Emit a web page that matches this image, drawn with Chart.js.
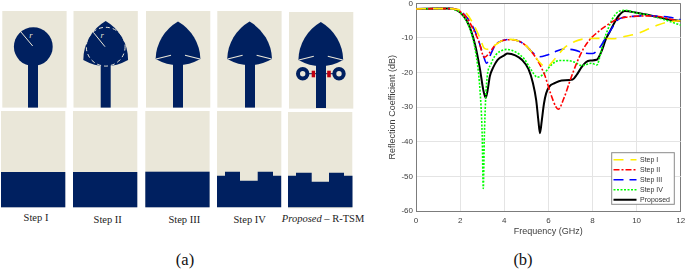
<!DOCTYPE html>
<html><head><meta charset="utf-8">
<style>
html,body{margin:0;padding:0;background:#fff;width:685px;height:270px;overflow:hidden}
#art{position:absolute;left:0;top:0}
#wrap{position:absolute;left:370px;top:0;width:315px;height:270px}
.cap{position:absolute;font-family:"Liberation Serif",serif;font-size:10.5px;color:#222;white-space:nowrap;transform:translate(-50%,-50%);line-height:1}
.big{font-size:16.5px;color:#111}
</style>
<script src="https://cdn.jsdelivr.net/npm/chart.js@4/dist/chart.umd.js"></script>
</head><body>
<svg id="art" width="370" height="270" xmlns="http://www.w3.org/2000/svg"></svg>
<div class="cap" style="left:36px;top:218px">Step I</div>
<div class="cap" style="left:107.7px;top:219.5px">Step II</div>
<div class="cap" style="left:184.3px;top:219.5px">Step III</div>
<div class="cap" style="left:249.7px;top:219.5px">Step IV</div>
<div class="cap" style="left:323px;top:219px"><i>Proposed</i> – R-TSM</div>
<div class="cap big" style="left:185px;top:260px">(a)</div>
<div class="cap big" style="left:523px;top:260px">(b)</div>
<div id="wrap"><canvas id="c" width="315" height="270"></canvas></div>
<script>
// ---- Data ----
const seriesNames = ["Step I","Step II","Step III","Step IV","Proposed"];
const xTicksMax = 12;

const freqI  = [0,1,1.5,1.8,2,2.3,2.6,2.9,3.1,3.3,3.6,3.9,4.3,4.7,5,5.3,5.6,5.9,6.3,6.7,7.2,7.7,8.3,9,9.5,10,10.5,11,11.5,12];
const lossI  = [-1.6,-1.5,-1.5,-1.7,-1.9,-3,-6,-10,-13,-13.3,-12,-10.8,-10.4,-11,-12.3,-14.5,-17,-18.4,-16,-13,-11,-10.2,-10.1,-10.2,-9.5,-8.8,-7.5,-6.2,-5.3,-5];

const freqII = [0,1,1.5,1.8,2,2.3,2.6,2.85,3.1,3.3,3.6,3.9,4.3,4.7,5,5.3,5.6,5.85,6.1,6.35,6.45,6.7,7,7.3,7.6,7.9,8.2,8.5,8.8,9.1,9.5,10,10.5,11,11.5,12];
const lossII = [-1.6,-1.5,-1.5,-1.7,-2.3,-4.2,-7.5,-11,-15.6,-14.5,-12,-10.8,-10.5,-11,-12.3,-14.5,-17.5,-21,-26,-30,-30.6,-27.5,-22,-17,-13,-10.3,-8.5,-7,-5.7,-4.6,-4,-3.7,-3.6,-3.8,-4.5,-5.3];

const freqIII= [0,1,1.5,1.8,2,2.3,2.6,2.85,3.05,3.2,3.4,3.6,3.9,4.3,4.7,5,5.3,5.6,5.9,6.3,6.7,7.2,7.6,8,8.3,8.6,8.9,9.1,9.4,10,10.5,11,11.5,12];
const lossIII= [-1.6,-1.5,-1.5,-1.7,-2.2,-4,-7,-11,-15,-17.3,-14.5,-12,-10.8,-10.4,-11,-12.3,-14.3,-15.4,-15,-14,-13.2,-13.5,-14.3,-14.5,-13,-10,-7,-5,-4,-3.7,-3.5,-3.7,-4,-4.7];

const freqIV = [0,1,1.5,1.8,2,2.3,2.5,2.7,2.9,3,3.05,3.1,3.2,3.4,3.6,3.9,4.1,4.5,4.9,5.2,5.5,5.8,6.1,6.5,6.8,7.2,7.5,7.96,8.2,8.35,8.5,8.7,8.9,9.2,9.5,10,10.5,11,11.5,12];
const lossIV = [-1.6,-1.5,-1.5,-1.9,-2.6,-5.2,-8.5,-14,-25,-38,-53.5,-38,-23,-17.5,-15,-13.6,-13.3,-14,-16,-19,-21.3,-20.3,-18,-16.5,-16.5,-17,-18,-17.3,-17.8,-15,-11,-7.5,-4.5,-2.3,-2,-2.8,-3.3,-4.2,-5.2,-6.3];

const freqP  = [0,1,1.5,1.84,2,2.3,2.5,2.7,2.9,3.05,3.16,3.25,3.35,3.5,3.7,4,4.15,4.5,4.8,5.1,5.3,5.45,5.55,5.62,5.7,5.8,5.9,6.05,6.3,6.6,7.1,7.3,7.5,7.7,7.9,8.19,8.4,8.6,8.8,9,9.2,9.47,10,10.5,11,11.5,12];
const lossP  = [-1.6,-1.5,-1.5,-1.9,-2.6,-5,-8,-12.5,-19,-25,-27.3,-25,-21,-18.5,-16.3,-15,-14.5,-15,-16.3,-19,-23,-28,-34,-37.5,-34,-29,-26,-24,-23,-22.3,-22,-20.5,-18.5,-17,-16.5,-16.3,-14,-10.5,-8,-5.5,-3.5,-2.2,-2.7,-3.3,-4,-4.7,-5];

// ---- Panel (a): antenna schematics (illustration, not data) ----
const NAVY="#002060", SAND="#eae7d9";
let s="";
const rect=(x,y,w,h,f)=>`<rect x="${x}" y="${y}" width="${w}" height="${h}" fill="${f}"/>`;
const line=(a,b,c,d,w,f,extra="")=>`<line x1="${a}" y1="${b}" x2="${c}" y2="${d}" stroke="${f}" stroke-width="${w}" ${extra}/>`;
const feed=(cx,y2)=>rect(cx-5,60,10,y2-60,NAVY);
const petal=(cx,ay,ty)=>`<path d="M${cx},${ay} A45 45 0 0 0 ${cx-22.4},${ty} Q${cx},${ty+12.4} ${cx+22.4},${ty} A45 45 0 0 0 ${cx},${ay} Z" fill="${NAVY}"/>`;
const slits=(cx,ty)=>line(cx-22,ty,cx-7,ty-3.8,1.1,SAND)+line(cx+22,ty,cx+7,ty-3.8,1.1,SAND);

// top row backgrounds
[[2.3,11],[73.5,11],[146,11],[217.3,11],[289,12]].forEach(p=>{s+=rect(p[0],p[1],64.3,96.6,SAND);});
// Step I
s+=`<circle cx="33.3" cy="46.7" r="19.4" fill="${NAVY}"/>`+feed(33,107.6);
s+=line(20.7,31.7,32.7,46,1,SAND);
s+=`<text x="29.3" y="37.5" font-family="Liberation Serif" font-style="italic" font-size="8.5" fill="${SAND}">r</text>`;
// Step II
s+=petal(105.7,21,60)+feed(105.7,107.6);
s+=`<circle cx="105.7" cy="46.7" r="19.4" fill="none" stroke="${SAND}" stroke-width="1" stroke-dasharray="4 3"/>`;
s+=line(93.3,32.3,105,46.7,1,SAND);
s+=`<text x="100.5" y="38" font-family="Liberation Serif" font-style="italic" font-size="8.5" fill="${SAND}">r</text>`;
// Step III
s+=petal(178,21.5,59)+feed(178,107.6)+slits(178,59);
// Step IV
s+=petal(249.6,21.5,59)+feed(250,107.6)+slits(249.6,59);
// Proposed
s+=petal(320.8,22,60)+line(309,73.7,333,73.7,1,NAVY);
s+=`<circle cx="302.7" cy="73.7" r="4.7" fill="${SAND}" stroke="${NAVY}" stroke-width="4"/>`;
s+=`<circle cx="339" cy="73.7" r="4.7" fill="${SAND}" stroke="${NAVY}" stroke-width="4"/>`;
s+=rect(316,60,10,48,NAVY)+slits(320.8,60);
s+=rect(311.7,70.7,3.4,6.6,"#c00010")+rect(327.2,70.7,3.6,6.6,"#c00010");

// bottom row
const ground=(pts)=>`<polygon points="${pts}" fill="${NAVY}"/>`;
[[1,111],[73,111],[145.3,111],[217,111],[288,112]].forEach(p=>{s+=rect(p[0],p[1],64.3,96.3,SAND);});
s+=rect(1,172,64.3,35.3,NAVY)+rect(73,172,64.3,35.3,NAVY)+rect(145.3,171.7,64.3,35.6,NAVY);
s+=ground("217,175.7 225,175.7 225,171.7 240,171.7 240,180.7 257.7,180.7 257.7,171.7 273,171.7 273,175.7 281.2,175.7 281.2,207.3 217,207.3");
s+=ground("288,175.7 296,175.7 296,172.7 311.7,172.7 311.7,181.7 329,181.7 329,172.7 344,172.7 344,175.7 352.5,175.7 352.5,207.3 288,207.3");
document.getElementById("art").innerHTML=s;

// ---- Panel (b): reflection coefficient ----
const pairs=(xs,ys)=>xs.map((x,i)=>({x:x,y:ys[i]}));
const styles=[
 {c:"#ffee00",w:1.6,d:[10,7]},
 {c:"#ff0000",w:1.6,d:[6,2,2,2]},
 {c:"#0000ff",w:1.6,d:[10,6]},
 {c:"#00ff00",w:1.6,d:[2,1.5]},
 {c:"#000000",w:2,d:[]}
];
const xs=[freqI,freqII,freqIII,freqIV,freqP], ys=[lossI,lossII,lossIII,lossIV,lossP];
const datasets=seriesNames.map((n,i)=>({
  label:n,data:pairs(xs[i],ys[i]),borderColor:styles[i].c,backgroundColor:styles[i].c,
  borderWidth:styles[i].w,borderDash:styles[i].d,pointRadius:0,fill:false,
  cubicInterpolationMode:"monotone"
}));
const AXIS="#7c7c7c",GRID="#e4e4e4",TXT="#3c3c3c";
const noPad=(sc)=>{sc.paddingTop=0;sc.paddingBottom=0;sc.paddingLeft=0;sc.paddingRight=0;};
const legendBox={
  id:"legendBox",
  beforeLayout(chart){
    const l=chart.legend; if(!l) return;
    l._layers=()=>[{z:5,draw(){
      const c=chart.ctx; c.save();
      c.fillStyle="#fff";c.strokeStyle="#8a8a8a";c.lineWidth=1;
      c.fillRect(241.7,152.7,62.6,51.6);c.strokeRect(241.7,152.7,62.6,51.6);c.restore();
      l.draw();
    }}];
  },
  afterLayout(chart){
    const l=chart.legend; if(!l) return;
    l.left=240.5;l.top=153.2;l.right=303;l.bottom=260;l.width=62.5;l.height=106.8;
    l.adjustHitBoxes();
  }
};
new Chart(document.getElementById("c"),{
  type:"line",
  data:{datasets},
  plugins:[legendBox],
  options:{
    responsive:false,animation:false,
    layout:{autoPadding:false,padding:{left:17,right:4.3,top:3.4,bottom:31}},
    plugins:{
      tooltip:{enabled:false},
      legend:{
        position:"chartArea",align:"start",
        labels:{
          font:{family:"Liberation Sans",size:7},color:"#333",
          usePointStyle:true,pointStyle:"line",boxWidth:23,boxHeight:6,pointStyleWidth:23,padding:3,
          generateLabels:(chart)=>chart.data.datasets.map((d,i)=>({
            text:d.label,fontColor:"#333",fillStyle:d.borderColor,strokeStyle:d.borderColor,
            lineWidth:d.borderWidth,lineDash:d.borderDash,pointStyle:"line",datasetIndex:i
          }))
        }
      }
    },
    scales:{
      x:{
        type:"linear",min:0,max:xTicksMax,
        afterFit(sc){sc.height=28;noPad(sc);},
        border:{color:AXIS,width:1},
        grid:{z:-1,color:(c)=>c.tick&&c.tick.value===xTicksMax?AXIS:GRID,lineWidth:1,drawTicks:false},
        ticks:{stepSize:2,color:TXT,font:{family:"Liberation Sans",size:8},padding:5,maxRotation:0},
        title:{display:true,text:"Frequency (GHz)",color:TXT,font:{family:"Liberation Sans",size:9},padding:{top:0,bottom:2}}
      },
      y:{
        min:-60,max:0,
        afterFit(sc){sc.width=29;noPad(sc);},
        border:{color:AXIS,width:1},
        grid:{z:-1,color:(c)=>c.tick&&c.tick.value===0?AXIS:GRID,lineWidth:1,drawTicks:false},
        ticks:{stepSize:10,color:TXT,font:{family:"Liberation Sans",size:8},padding:3},
        title:{display:true,text:"Reflection Coefficient (dB)",color:TXT,font:{family:"Liberation Sans",size:9},padding:{top:0,bottom:0}}
      }
    }
  }
});
</script>
</body></html>
